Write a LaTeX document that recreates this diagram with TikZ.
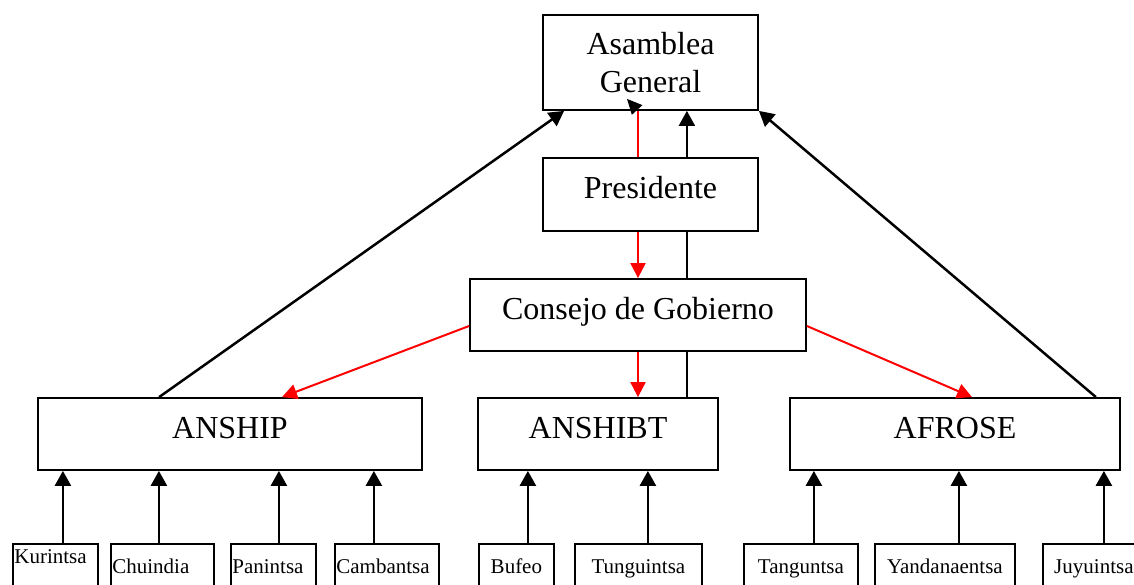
\documentclass[tikz,border=0pt]{standalone}
\usepackage{fontspec}
\setmainfont{Liberation Serif}
\usetikzlibrary{arrows.meta,backgrounds,calc}

\tikzset{
  box/.style={draw, fill=white, line width=1.8pt, inner sep=0pt, align=center,
    font=\fontsize{32}{38}\selectfont},
  single/.style={text height=22pt, text depth=13pt},
  leaf/.style={draw, fill=white, line width=1.8pt, anchor=north west,
    inner xsep=1.5pt, inner ysep=0pt, text height=30pt, text depth=40pt,
    font=\fontsize{21}{24}\selectfont},
  uparrow/.style={line width=2.5pt, -{Triangle[width=16pt,length=15pt]}},
  redarrow/.style={red, line width=2pt, -{Triangle[width=15pt,length=15pt]}},
}

\begin{document}
\begin{tikzpicture}[x=1pt, y=-1pt]
    \useasboundingbox (0,0) rectangle (1134,585);
    \clip (0,0) rectangle (1134,585);

    % upper levels
    \node[box, minimum width=215pt, minimum height=95pt] (asamblea) at (650.5,62.5) {Asamblea\\General};
    \node[box, single, minimum width=215pt, minimum height=73pt] (presidente) at (650.5,194.5) {Presidente};
    \node[box, single, minimum width=336pt, minimum height=72pt] (consejo) at (638,315) {Consejo de Gobierno};

    % associations
    \node[box, single, minimum width=384pt, minimum height=72pt] (anship) at (230,434) {ANSHIP};
    \node[box, single, minimum width=240pt, minimum height=72pt] (anshibt) at (598,434) {ANSHIBT};
    \node[box, single, minimum width=330pt, minimum height=72pt] (afrose) at (955,434) {AFROSE};

    % communities
    \node[leaf, text width=82pt, align=left, text height=20pt, text depth=50pt] (kurintsa) at (12,543) {Kurintsa};
    \node[leaf, text width=100pt, align=left] (chuindia) at (110,543) {Chuindia};
    \node[leaf, text width=82pt, align=left] (panintsa) at (230,543) {Panintsa};
    \node[leaf, text width=101pt, align=left] (cambantsa) at (334,543) {Cambantsa};
    \node[leaf, text width=72pt, align=center] (bufeo) at (478,543) {Bufeo};
    \node[leaf, text width=124pt, align=center] (tunguintsa) at (574,543) {Tunguintsa};
    \node[leaf, text width=111pt, align=center] (tanguntsa) at (743,543) {Tanguntsa};
    \node[leaf, text width=137pt, align=center] (yandanaentsa) at (874,543) {Yandanaentsa};
    \node[leaf, text width=99pt, align=center] (juyuintsa) at (1042,543) {Juyuintsa};

    \begin{scope}[on background layer]
        \draw[uparrow, line width=2pt] ([xshift=-32pt]anshibt.north east) -- ([xshift=-32pt]anshibt.north east |- asamblea.south);
    \end{scope}

    \draw[uparrow] ([xshift=122pt]anship.north west) -- ([xshift=22pt]asamblea.south west);
    \draw[uparrow] ([xshift=-25pt]afrose.north east) -- (asamblea.south east);

    \draw[red, line width=2pt] (consejo.north |- presidente.north) -- (consejo.north |- asamblea.south);
    \draw[line width=1pt, -{Triangle[width=14pt,length=15pt]}] (consejo.north |- asamblea.south) -- ++(-11,-12);

    \draw[redarrow] (consejo.north |- presidente.south) -- (consejo.north);
    \draw[redarrow] (consejo.south) -- (consejo.south |- anshibt.north);
    \draw[redarrow] ([yshift=-11pt]consejo.west) -- ([xshift=52pt]anship.north);
    \draw[redarrow] ([yshift=-11pt]consejo.east) -- ([xshift=17pt]afrose.north);

    \draw[uparrow] ([xshift=7.5pt]kurintsa.north) -- ([xshift=7.5pt]kurintsa.north |- anship.south);
    \draw[uparrow] ([xshift=-3.5pt]chuindia.north) -- ([xshift=-3.5pt]chuindia.north |- anship.south);
    \draw[uparrow] ([xshift=5.5pt]panintsa.north) -- ([xshift=5.5pt]panintsa.north |- anship.south);
    \draw[uparrow] ([xshift=-13pt]cambantsa.north) -- ([xshift=-13pt]cambantsa.north |- anship.south);
    \draw[uparrow] ([xshift=11.5pt]bufeo.north) -- ([xshift=11.5pt]bufeo.north |- anshibt.south);
    \draw[uparrow] ([xshift=9.5pt]tunguintsa.north) -- ([xshift=9.5pt]tunguintsa.north |- anshibt.south);
    \draw[uparrow] ([xshift=13pt]tanguntsa.north) -- ([xshift=13pt]tanguntsa.north |- afrose.south);
    \draw[uparrow] ([xshift=14pt]yandanaentsa.north) -- ([xshift=14pt]yandanaentsa.north |- afrose.south);
    \draw[uparrow] ([xshift=10pt]juyuintsa.north) -- ([xshift=10pt]juyuintsa.north |- afrose.south);
\end{tikzpicture}
\end{document}
